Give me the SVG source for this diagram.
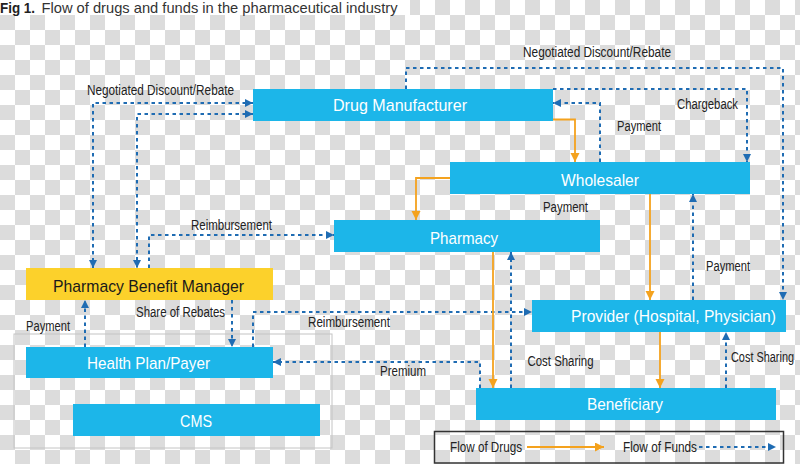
<svg xmlns="http://www.w3.org/2000/svg" width="800" height="464" viewBox="0 0 800 464">
<defs>
<pattern id="cb" width="30" height="30" patternUnits="userSpaceOnUse">
<rect width="30" height="30" fill="#ffffff"/>
<rect x="15" y="0" width="15" height="15" fill="#dcdcdc"/>
<rect x="0" y="15" width="15" height="15" fill="#dcdcdc"/>
</pattern>
<marker id="ab" markerUnits="userSpaceOnUse" markerWidth="9" markerHeight="9" refX="8" refY="4" orient="auto-start-reverse">
<path d="M0,0 L8,4 L0,8 Z" fill="#1f6cb3"/>
</marker>
<marker id="ao" markerUnits="userSpaceOnUse" markerWidth="10" markerHeight="10" refX="9" refY="4.5" orient="auto">
<path d="M0,0 L9,4.5 L0,9 Z" fill="#f4a21e"/>
</marker>
</defs>
<style>
.node{fill:#1cb6e9}
.pbm{fill:#fcd12b}
.nt{font-family:"Liberation Sans","Open Sans",sans-serif;font-size:17px;fill:#ffffff}
.nd{font-family:"Liberation Sans","Open Sans",sans-serif;font-size:17px;fill:#1a1a1a}
.lb{font-family:"Liberation Sans","Open Sans",sans-serif;font-size:14px;fill:#222222}
.lbs{font-family:"Liberation Sans","Open Sans",sans-serif;font-size:11.5px;fill:#222222}
.fund{fill:none;stroke:#1f6cb3;stroke-width:2;stroke-dasharray:3.5 3.5;marker-end:url(#ab)}
.drug{fill:none;stroke:#f4a21e;stroke-width:1.8;marker-end:url(#ao)}
</style>
<rect width="800" height="464" fill="url(#cb)"/>
<rect x="0" y="0" width="410" height="15" fill="#ffffff"/>
<text x="0" y="13.3" font-family="Liberation Sans, sans-serif" font-size="15" font-weight="bold" fill="#222" textLength="35" lengthAdjust="spacingAndGlyphs">Fig 1.</text>
<text x="41.5" y="13.3" font-family="Liberation Sans, sans-serif" font-size="15" fill="#333" textLength="356" lengthAdjust="spacingAndGlyphs">Flow of drugs and funds in the pharmaceutical industry</text>

<rect x="14" y="334" width="318" height="114" fill="none" stroke="#c4c4c4" stroke-width="1"/>

<g id="connectors">
<path class="fund" d="M253,103 H93 V268" marker-start="url(#ab)"/>
<path class="fund" d="M253,114 H137 V268" marker-start="url(#ab)"/>
<path class="fund" d="M149,268 V235 H334"/>
<path class="fund" d="M406,89 V68 H783 V300"/>
<path class="fund" d="M553,89 H747 V162"/>
<path class="fund" d="M600,162 V103 H553"/>
<path class="fund" d="M693,300 V194"/>
<path class="fund" d="M511,388 V252"/>
<path class="fund" d="M726,388 V332"/>
<path class="fund" d="M480,388 V362 H273"/>
<path class="fund" d="M253,347 V312 H532"/>
<path class="fund" d="M232,300 V347"/>
<path class="fund" d="M85,347 V300"/>
<path class="drug" d="M553,119.5 H575 V162"/>
<path class="drug" d="M450,178 H416 V220"/>
<path class="drug" d="M650,194 V300"/>
<path class="drug" d="M493,252 V388"/>
<path class="drug" d="M660,332 V388"/>
</g>

<g id="labels">
<text class="lb" x="87" y="95" textLength="147" lengthAdjust="spacingAndGlyphs">Negotiated Discount/Rebate</text>
<text class="lb" x="523" y="57" textLength="148" lengthAdjust="spacingAndGlyphs">Negotiated Discount/Rebate</text>
<text class="lb" x="677" y="108.5" textLength="61" lengthAdjust="spacingAndGlyphs">Chargeback</text>
<text class="lb" x="617" y="131" textLength="44" lengthAdjust="spacingAndGlyphs">Payment</text>
<text class="lb" x="543" y="212" textLength="45" lengthAdjust="spacingAndGlyphs">Payment</text>
<text class="lb" x="191" y="229.5" textLength="81" lengthAdjust="spacingAndGlyphs">Reimbursement</text>
<text class="lb" x="706" y="271" textLength="44" lengthAdjust="spacingAndGlyphs">Payment</text>
<text class="lb" x="136" y="317" textLength="89" lengthAdjust="spacingAndGlyphs">Share of Rebates</text>
<text class="lb" x="308" y="327" textLength="82" lengthAdjust="spacingAndGlyphs">Reimbursement</text>
<text class="lb" x="26" y="331" textLength="44" lengthAdjust="spacingAndGlyphs">Payment</text>
<text class="lb" x="527.5" y="366" textLength="66" lengthAdjust="spacingAndGlyphs">Cost Sharing</text>
<text class="lbs" transform="translate(731,362) scale(1,1.2)" x="0" y="0" textLength="63" lengthAdjust="spacingAndGlyphs">Cost Sharing</text>
<text class="lb" x="380" y="376" textLength="46" lengthAdjust="spacingAndGlyphs">Premium</text>
</g>

<g id="drug-manufacturer">
<rect class="node" x="253" y="89" width="300" height="32"/>
<text class="nt" x="333" y="111" textLength="134" lengthAdjust="spacingAndGlyphs">Drug Manufacturer</text>
</g>
<g id="wholesaler">
<rect class="node" x="450" y="162" width="300" height="32"/>
<text class="nt" x="561" y="186" textLength="78" lengthAdjust="spacingAndGlyphs">Wholesaler</text>
</g>
<g id="pharmacy">
<rect class="node" x="334" y="220" width="266" height="32"/>
<text class="nt" x="430" y="244" textLength="68" lengthAdjust="spacingAndGlyphs">Pharmacy</text>
</g>
<g id="pbm">
<rect class="pbm" x="26" y="268" width="247" height="32"/>
<text class="nd" x="53" y="291.5" textLength="191" lengthAdjust="spacingAndGlyphs">Pharmacy Benefit Manager</text>
</g>
<g id="provider">
<rect class="node" x="532" y="300" width="254" height="32"/>
<text class="nt" x="571" y="322" textLength="205" lengthAdjust="spacingAndGlyphs">Provider (Hospital, Physician)</text>
</g>
<g id="health-plan">
<rect class="node" x="26" y="347" width="247" height="31"/>
<text class="nt" x="87" y="368.5" textLength="123" lengthAdjust="spacingAndGlyphs">Health Plan/Payer</text>
</g>
<g id="beneficiary">
<rect class="node" x="476" y="388" width="300" height="32"/>
<text class="nt" x="587" y="410" textLength="76" lengthAdjust="spacingAndGlyphs">Beneficiary</text>
</g>
<g id="cms">
<rect class="node" x="73" y="404" width="247" height="32"/>
<text class="nt" x="180" y="426.5" textLength="32" lengthAdjust="spacingAndGlyphs">CMS</text>
</g>

<g id="legend">
<rect x="434.5" y="431.5" width="349" height="31.5" fill="none" stroke="#333333" stroke-width="1.5"/>
<text class="lb" x="450" y="452" textLength="72" lengthAdjust="spacingAndGlyphs">Flow of Drugs</text>
<path class="drug" d="M527,447 H604"/>
<text class="lb" x="623" y="452" textLength="74" lengthAdjust="spacingAndGlyphs">Flow of Funds</text>
<path class="fund" d="M699,447 H776"/>
</g>
</svg>
